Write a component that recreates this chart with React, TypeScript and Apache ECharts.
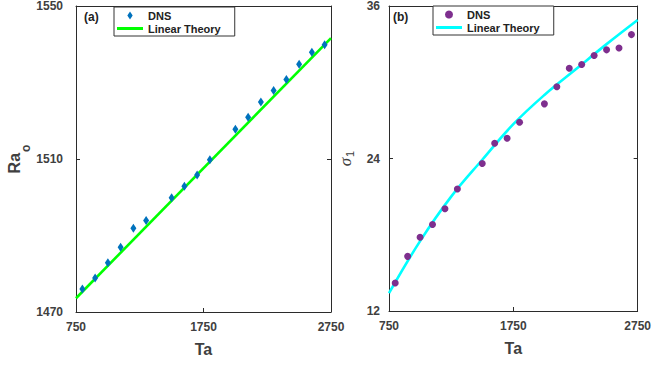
import React, { useEffect, useRef } from "react";
import * as echarts from "echarts";

// ---- data ----
const taDNS = [800, 900, 1000, 1100, 1200, 1300, 1500, 1600, 1700, 1800, 2000, 2100, 2200, 2300, 2400, 2500, 2600, 2700];
const raDNS = [1476.0, 1478.9, 1482.9, 1486.9, 1491.9, 1493.9, 1499.9, 1502.9, 1505.8, 1509.8, 1517.8, 1520.9, 1524.9, 1527.9, 1530.8, 1534.8, 1537.9, 1539.9];
const taLinearA = [750, 2750];
const raLinear = [1473.6, 1541.6];

const sigmaDNS = [14.2, 16.3, 17.8, 18.8, 20.05, 21.6, 23.6, 25.2, 25.6, 26.85, 28.3, 29.65, 31.1, 31.4, 32.1, 32.55, 32.7, 33.75];
const taTheoryB = [750, 1000, 1250, 1500, 1750, 2000, 2250, 2500, 2750];
const sigmaLinear = [13.4, 17.5, 21.0, 23.9, 26.7, 29.0, 31.0, 33.0, 34.9];

const xTicks = [750, 1750, 2750];
const raTicks = [1470, 1510, 1550];
const sigmaTicks = [12, 24, 36];

const FONT = '"Liberation Sans", Arial, Helvetica, sans-serif';
const AXIS_COLOR = "#2b2b2b";
const LABEL_COLOR = "#404040";

const LINE_ICON = "path://M0,0 L26,0 L26,3 L0,3 Z";
const DIAMOND_ICON = "path://M3,0 L6,4.5 L3,9 L0,4.5 Z";

function pairs(xs: number[], ys: number[]) {
  return xs.map((x, i) => [x, ys[i]]);
}

const plain = (v: number) => String(v);

function xAxes(grid: number) {
  const base = {
    gridIndex: grid,
    type: "value",
    min: 750,
    max: 2750,
    splitLine: { show: false },
    axisLine: { show: true, onZero: false, lineStyle: { color: AXIS_COLOR, width: 1 } },
    axisTick: { show: true, inside: true, length: 4, customValues: xTicks, lineStyle: { color: AXIS_COLOR } },
  };
  return [
    {
      ...base,
      position: "bottom",
      axisLabel: {
        customValues: xTicks,
        formatter: plain,
        fontFamily: FONT,
        fontWeight: "bold",
        fontSize: 12,
        color: LABEL_COLOR,
        margin: 9,
      },
      name: "Ta",
      nameLocation: "middle",
      nameGap: 29,
      nameTextStyle: { fontFamily: FONT, fontWeight: "bold", fontSize: 16, color: LABEL_COLOR },
    },
    { ...base, position: "top", axisLabel: { show: false } },
  ];
}

function yAxes(grid: number, min: number, max: number, ticks: number[], name: string, rich: any, nameGap: number, margin: number) {
  const base = {
    gridIndex: grid,
    type: "value",
    min,
    max,
    splitLine: { show: false },
    axisLine: { show: true, onZero: false, lineStyle: { color: AXIS_COLOR, width: 1 } },
    axisTick: { show: true, inside: true, length: 4, customValues: ticks, lineStyle: { color: AXIS_COLOR } },
  };
  return [
    {
      ...base,
      position: "left",
      axisLabel: {
        customValues: ticks,
        formatter: plain,
        fontFamily: FONT,
        fontWeight: "bold",
        fontSize: 12,
        color: LABEL_COLOR,
        margin,
      },
      name,
      nameLocation: "middle",
      nameGap,
      nameRotate: 90,
      nameTextStyle: { rich },
    },
    { ...base, position: "right", axisLabel: { show: false } },
  ];
}

export default function App() {
  const ref = useRef<HTMLDivElement>(null);

  useEffect(() => {
    if (!ref.current) return;
    const chart = echarts.init(ref.current, undefined, { renderer: "svg" });

    const legendText = { fontFamily: FONT, fontWeight: "bold", fontSize: 11, color: "#222" };
    const legendBase = {
      orient: "vertical",
      backgroundColor: "#fff",
      borderColor: "#333",
      borderWidth: 1,
      borderRadius: 0,
      padding: [3, 14, 2, 3],
      itemGap: 2,
      itemWidth: 26,
      itemHeight: 8,
      symbolKeepAspect: true,
      textStyle: legendText,
      selectedMode: false,
    };

    const option: any = {
      animation: false,
      backgroundColor: "#ffffff",
      grid: [
        { left: 76, right: 323, top: 5, bottom: 54 },
        { left: 389, right: 10, top: 5, bottom: 55 },
      ],
      xAxis: [...xAxes(0), ...xAxes(1)],
      yAxis: [
        ...yAxes(
          0,
          1470,
          1550,
          raTicks,
          "{r|Ra}{s|o}",
          {
            r: { fontFamily: FONT, fontWeight: "bold", fontSize: 16, color: LABEL_COLOR, lineHeight: 18, verticalAlign: "top" },
            s: { fontFamily: FONT, fontWeight: "bold", fontSize: 12, color: LABEL_COLOR, lineHeight: 26, padding: [0, 0, 0, 1], verticalAlign: "bottom" },
          },
          43,
          13
        ),
        ...yAxes(
          1,
          12,
          36,
          sigmaTicks,
          "{r|σ}{s|1}",
          {
            r: { fontFamily: '"Liberation Serif", "DejaVu Serif", serif', fontStyle: "italic", fontSize: 17, color: LABEL_COLOR, lineHeight: 18, verticalAlign: "top" },
            s: { fontFamily: FONT, fontSize: 11, color: LABEL_COLOR, lineHeight: 12, padding: [10, 0, 0, 1], verticalAlign: "bottom" },
          },
          34,
          9
        ),
      ],
      legend: [
        {
          ...legendBase,
          left: 114,
          top: 7,
          data: [
            { name: "DNS", icon: DIAMOND_ICON, itemStyle: { color: "#0072BD" } },
            { name: "Linear Theory", icon: LINE_ICON, itemStyle: { color: "#00FF00" } },
          ],
        },
        {
          ...legendBase,
          left: 433,
          top: 6,
          data: [
            { name: "DNS", icon: "circle", itemStyle: { color: "#7E2F8E" } },
            { name: "Linear Theory", icon: LINE_ICON, itemStyle: { color: "#00FFFF" } },
          ],
        },
      ],
      graphic: [
        { type: "text", left: 84, top: 11, style: { text: "(a)", font: `bold 12px ${FONT}`, fill: "#222" } },
        { type: "text", left: 393, top: 11, style: { text: "(b)", font: `bold 12px ${FONT}`, fill: "#222" } },
      ],
      series: [
        {
          name: "Linear Theory",
          type: "line",
          xAxisIndex: 0,
          yAxisIndex: 0,
          data: pairs(taLinearA, raLinear),
          showSymbol: false,
          symbol: "none",
          lineStyle: { color: "#00FF00", width: 2.6 },
          itemStyle: { color: "#00FF00" },
          z: 2,
        },
        {
          name: "DNS",
          type: "scatter",
          xAxisIndex: 0,
          yAxisIndex: 0,
          data: pairs(taDNS, raDNS),
          symbol: "diamond",
          symbolSize: [6, 9],
          itemStyle: { color: "#0072BD", opacity: 1 },
          z: 3,
        },
        {
          name: "Linear Theory",
          type: "line",
          xAxisIndex: 2,
          yAxisIndex: 2,
          data: pairs(taTheoryB, sigmaLinear),
          smooth: 0.4,
          showSymbol: false,
          symbol: "none",
          lineStyle: { color: "#00FFFF", width: 2.6 },
          itemStyle: { color: "#00FFFF" },
          z: 2,
        },
        {
          name: "DNS",
          type: "scatter",
          xAxisIndex: 2,
          yAxisIndex: 2,
          data: pairs(taDNS, sigmaDNS),
          symbol: "circle",
          symbolSize: 7,
          itemStyle: { color: "#7E2F8E", opacity: 1 },
          z: 3,
        },
      ],
    };

    chart.setOption(option);
    return () => chart.dispose();
  }, []);

  return <div ref={ref} style={{ width: 654, height: 366, position: "absolute", left: 0, top: 0 }} />;
}
